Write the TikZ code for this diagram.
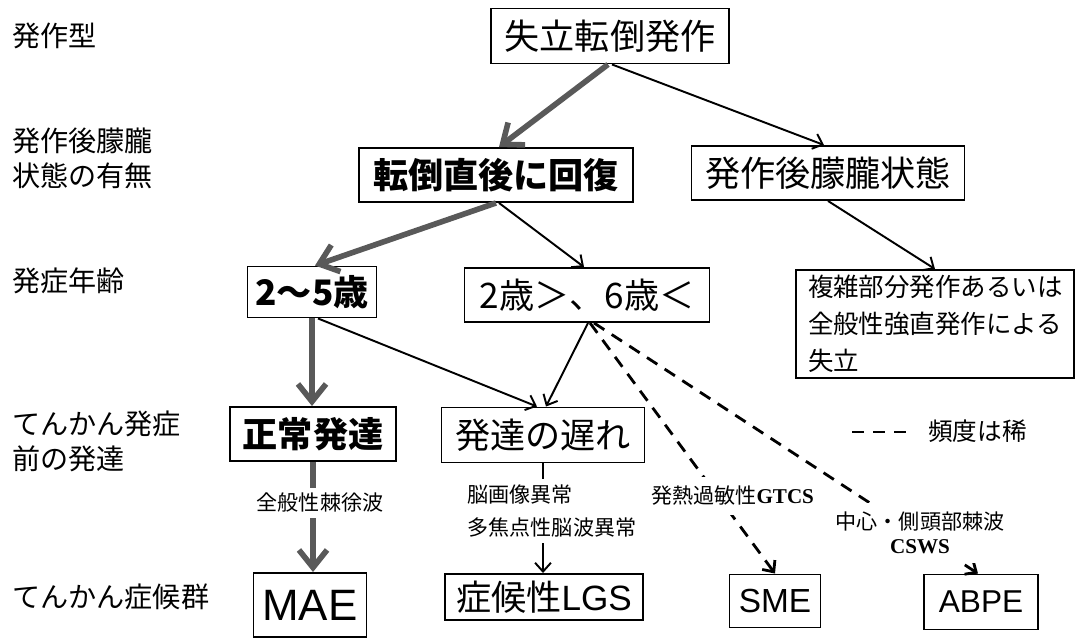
\documentclass[tikz,border=0pt]{standalone}
\usepackage{fontspec}
\setmainfont{Noto Sans CJK JP}
\newfontfamily\arialf{Liberation Sans}
\newfontfamily\timesf{Liberation Serif}
\usetikzlibrary{arrows.meta,calc}
\begin{document}
\begin{tikzpicture}[x=0.02cm,y=-0.02cm,
  every node/.style={inner sep=0pt},
  box/.style n args={2}{draw, line width=1.1pt, minimum width=#1*0.02cm, minimum height=#2*0.02cm},
  big/.style={font=\fontsize{20}{24}\selectfont},
  bigb/.style={font=\fontsize{20}{24}\selectfont\bfseries},
  side/.style={anchor=west, align=left, font=\fontsize{16}{20}\selectfont},
  elab/.style={fill=white, inner sep=3pt, font=\fontsize{12}{18.8}\selectfont},
  heavy/.style={draw=black!65, line width=3.2pt, -{Straight Barb[length=10pt,width=16pt]}},
  light/.style={draw=black, line width=1.1pt, -{Straight Barb[length=5pt,width=9pt]}},
  rare/.style={draw=black, line width=1.6pt, dash pattern=on 7pt off 5pt, -{Straight Barb[length=5pt,width=9pt]}},
  rareline/.style={draw=black, line width=1.6pt, dash pattern=on 7pt off 5pt},
]
\path[use as bounding box] (0,0) rectangle (1076,641);

% left column labels
\node[side] (l1) at (12,36) {発作型};
\node[side] (l2) at (12,158) {発作後朦朧\\状態の有無};
\node[side] (l3) at (12,281) {発症年齢};
\node[side] (l4) at (12,441) {てんかん発症\\前の発達};
\node[side] (l5) at (12,597) {てんかん症候群};

% boxes
\node[box={238}{55}, big] (top) at (610,36) {失立転倒発作};
\node[box={274}{54}, bigb] (rec) at (496,175) {転倒直後に回復};
\node[box={273}{54}, big] (post) at (828,173) {発作後朦朧状態};
\node[box={129}{51}, bigb] (a25) at (312,292) {2〜5歳};
\node[box={245}{54}, big] (a26) at (587,295) {2歳＞、6歳＜};
\node[box={278}{108}, align=left, text width=254*0.02cm, font=\fontsize{14.5}{21}\selectfont] (cps) at (935,324) {複雑部分発作あるいは\\全般性強直発作による\\失立};
\node[box={166}{54}, bigb] (norm) at (313,434) {正常発達};
\node[box={203}{55}, big] (delay) at (543,435) {発達の遅れ};
\node[box={113}{64}, font=\fontsize{25}{30}\selectfont\arialf] (mae) at (310,605) {MAE};
\node[box={198}{46}, big] (lgs) at (544,597) {症候性{\arialf LGS}};
\node[box={91}{53}, font=\fontsize{19}{24}\selectfont\arialf] (sme) at (775,601) {SME};
\node[box={114}{55}, font=\fontsize{18}{24}\selectfont\arialf] (abpe) at (981,602) {ABPE};

% connectors
\draw[heavy] ($(top.south)+(-2,0)$) -- ($(rec.north)+(3,0)$);
\draw[light] ($(top.south)+(2,0)$) -- ($(post.north)+(-4,0)$);
\draw[heavy] (rec.south) -- ($(a25.north)+(3,0)$);
\draw[light] ($(rec.south)+(3,0)$) -- ($(a26.north)+(-3,0)$);
\draw[light] (post.south) -- (cps.north);
\draw[heavy] (a25.south) -- (a25.south |- norm.north);
\draw[light] ($(a25.south)+(6,0)$) -- ($(delay.north)+(-6,0)$);
\draw[light] ($(a26.south)+(1,0)$) -- ($(delay.north)+(3,0)$);
\draw[rare] ($(a26.south)+(3,0)$) -- (sme.north);
\draw[rare] ($(a26.south)+(7,0)$) -- ($(abpe.north)+(-3,0)$);
\draw[heavy] (norm.south) -- (norm.south |- mae.north);
\draw[light] (delay.south) -- (delay.south |- lgs.north);

% connector labels
\node[elab] (g1) at (320,503) {全般性棘徐波};
\node[elab, align=left, anchor=west] (g2) at (462,511) {脳画像異常\\多焦点性脳波異常};
\node[elab, anchor=west, inner sep=5pt] (g3) at (642,496) {発熱過敏性{\timesf\bfseries GTCS}};
\node[elab, align=center, inner sep=5pt, font=\fontsize{12}{13.5}\selectfont] (g4) at (920,533) {中心・側頭部棘波\\{\timesf\bfseries CSWS}};

% legend
\coordinate (lga) at (852,432);
\coordinate (lgb) at (912,432);
\draw[rareline] (lga) -- (lgb);
\node[anchor=west, font=\fontsize{14}{18}\selectfont] (lgt) at (928,431) {頻度は稀};
\end{tikzpicture}
\end{document}
